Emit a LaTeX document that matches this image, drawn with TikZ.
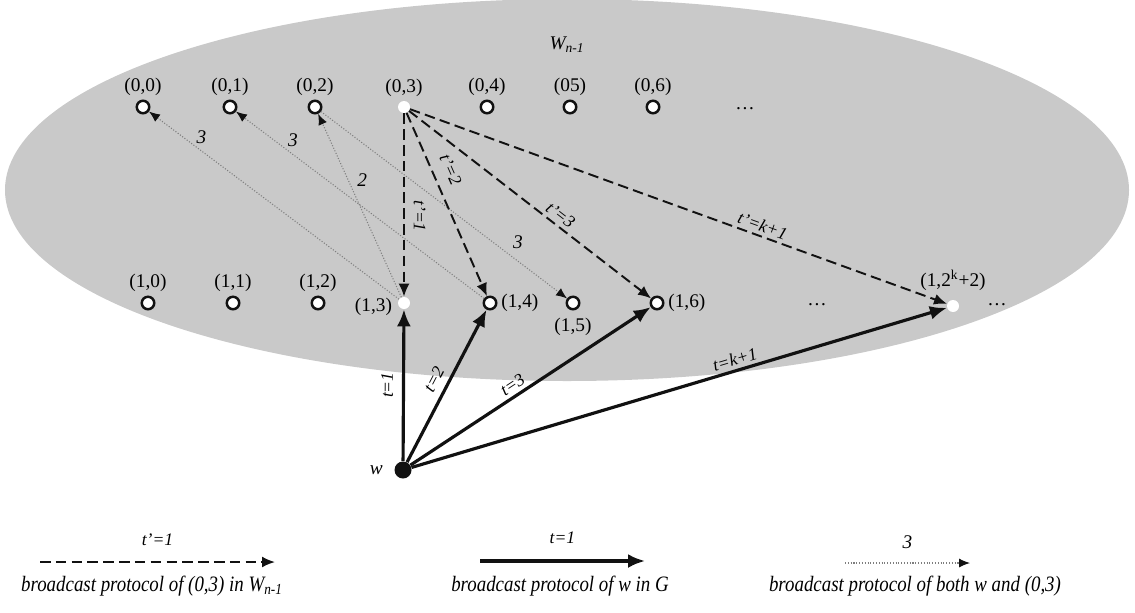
\documentclass[tikz,border=0pt]{standalone}
\usepackage{fontspec}
\setmainfont{Liberation Serif}
\newfontfamily\legendfont[FakeStretch=0.86]{Liberation Serif}
\usetikzlibrary{positioning,arrows.meta}
\definecolor{setFill}{HTML}{C9C9C9}
\definecolor{lineThin}{HTML}{7E7E7E}
\definecolor{inkDark}{HTML}{111111}
\tikzset{
  vtx/.style={circle,draw=inkDark,line width=1.4pt,fill=white,inner sep=0pt,minimum size=2.5mm},
  vtxlit/.style={circle,fill=white,inner sep=0pt,minimum size=2.4mm},
  coordlbl/.style={font=\fontsize{11}{13}\selectfont,inner sep=1pt},
  tlbl/.style={font=\itshape\fontsize{10}{12}\selectfont,sloped,inner sep=2pt},
  numlbl/.style={font=\itshape\fontsize{11}{13}\selectfont,inner sep=1pt},
  wArrow/.style={-{Latex[length=3.4mm,width=2.8mm]},line width=1.8pt,draw=inkDark},
  subArrow/.style={-{Latex[length=2.6mm,width=2.2mm]},dash pattern=on 6pt off 3pt,
                   line width=1.1pt,draw=inkDark},
  bothArrow/.style={-{Latex[length=2.2mm,width=1.8mm,color=inkDark]},densely dotted,
                    line width=0.6pt,draw=lineThin},
  legendtxt/.style={font=\legendfont\itshape\fontsize{12.5}{14}\selectfont}
}
\begin{document}
\begin{tikzpicture}
  \useasboundingbox (0,0) rectangle (22.7,-12.24);
  \fill[setFill] (11.34,-3.80) ellipse [x radius=11.24, y radius=3.82];
  \node[font=\itshape\fontsize{11}{13}\selectfont] (wset) at (11.34,-0.90)
        {W\textsubscript{n-1}};

  % row 0
  \node[vtx] (v00) at (2.86,-2.14) {};
  \node[vtx] (v01) at (4.60,-2.14) {};
  \node[vtx] (v02) at (6.30,-2.14) {};
  \node[vtxlit] (v03) at (8.08,-2.14) {};
  \node[vtx] (v04) at (9.74,-2.14) {};
  \node[vtx] (v05) at (11.40,-2.14) {};
  \node[vtx] (v06) at (13.06,-2.14) {};
  \node[coordlbl] (dots0) at (14.90,-2.18) {\dots};
  \node[coordlbl,above=1pt of v00] (l00) {(0,0)};
  \node[coordlbl,above=1pt of v01] (l01) {(0,1)};
  \node[coordlbl,above=1pt of v02] (l02) {(0,2)};
  \node[coordlbl,above=1pt of v03] (l03) {(0,3)};
  \node[coordlbl,above=1pt of v04] (l04) {(0,4)};
  \node[coordlbl,above=1pt of v05] (l05) {(05)};
  \node[coordlbl,above=1pt of v06] (l06) {(0,6)};

  % row 1
  \node[vtx] (v10) at (2.96,-6.06) {};
  \node[vtx] (v11) at (4.66,-6.06) {};
  \node[vtx] (v12) at (6.36,-6.06) {};
  \node[vtxlit] (v13) at (8.08,-6.06) {};
  \node[vtx] (v14) at (9.80,-6.06) {};
  \node[vtx] (v15) at (11.46,-6.06) {};
  \node[vtx] (v16) at (13.14,-6.06) {};
  \node[coordlbl] (dots1) at (16.34,-6.10) {\dots};
  \node[vtxlit] (v1k) at (19.06,-6.12) {};
  \node[coordlbl] (dots2) at (19.94,-6.10) {\dots};
  \node[coordlbl,above=1pt of v10] (l10) {(1,0)};
  \node[coordlbl,above=1pt of v11] (l11) {(1,1)};
  \node[coordlbl,above=1pt of v12] (l12) {(1,2)};
  \node[coordlbl,left=2pt of v13,yshift=-2pt] (l13) {(1,3)};
  \node[coordlbl,right=1pt of v14] (l14) {(1,4)};
  \node[coordlbl,below=3pt of v15] (l15) {(1,5)};
  \node[coordlbl,right=1pt of v16] (l16) {(1,6)};
  \node[coordlbl,above=4pt of v1k] (l1k) {(1,2\textsuperscript{k}+2)};

  \node[circle,fill=inkDark,inner sep=0pt,minimum size=3.4mm] (w) at (8.06,-9.40) {};
  \node[font=\itshape\fontsize{11}{13}\selectfont,left=3pt of w] (wlbl) {w};

  % both w and (0,3)
  \draw[bothArrow] (v13) -- (v00) node[numlbl,pos=0.79,above=3pt] (b1) {3};
  \draw[bothArrow] (v14) -- (v01) node[numlbl,pos=0.77,above=3pt] (b2) {3};
  \draw[bothArrow] (v13) -- (v02) node[numlbl,pos=0.64,right=4pt] (b3) {2};
  \draw[bothArrow] (v02) -- (v15) node[numlbl,pos=0.80,above=6pt] (b4) {3};

  % (0,3) in W_{n-1}
  \draw[subArrow] (v03) -- (v13) node[tlbl,pos=0.56,above=3pt] (s1) {t'=1};
  \draw[subArrow] (v03) -- (v14) node[tlbl,pos=0.35,above=4pt] (s2) {t'=2};
  \draw[subArrow] (v03) -- (v16) node[tlbl,pos=0.60,above] (s3) {t'=3};
  \draw[subArrow] (v03) -- (v1k) node[tlbl,pos=0.65,above] (s4) {t'=k+1};

  % w in G
  \draw[wArrow] (w) -- (v13) node[tlbl,pos=0.50,above=3pt] (g1) {t=1};
  \draw[wArrow] (w) -- (v14) node[tlbl,pos=0.50,above=2pt] (g2) {t=2};
  \draw[wArrow] (w) -- (v16) node[tlbl,pos=0.45,above] (g3) {t=3};
  \draw[wArrow] (w) -- (v1k) node[tlbl,pos=0.61,above] (g4) {t=k+1};

  % legend
  \coordinate (la) at (0.80,-11.24);
  \coordinate (lb) at (5.50,-11.24);
  \coordinate (lc) at (9.60,-11.22);
  \coordinate (ld) at (12.90,-11.22);
  \coordinate (le) at (16.90,-11.26);
  \coordinate (lf) at (19.40,-11.26);
  \draw[subArrow] (la) -- (lb) node[tlbl,midway,above=7pt] (lat) {t'=1};
  \draw[wArrow] (lc) -- (ld) node[tlbl,midway,above=7pt] (lct) {t=1};
  \draw[bothArrow] (le) -- (lf) node[numlbl,midway,above=7pt] (let) {3};
  \node[legendtxt] (txt1) at (3.04,-11.72) {broadcast protocol of (0,3) in W\textsubscript{n-1}};
  \node[legendtxt] (txt2) at (11.20,-11.72) {broadcast protocol of w in G};
  \node[legendtxt] (txt3) at (18.30,-11.72) {broadcast protocol of both w and (0,3)};
\end{tikzpicture}
\end{document}
